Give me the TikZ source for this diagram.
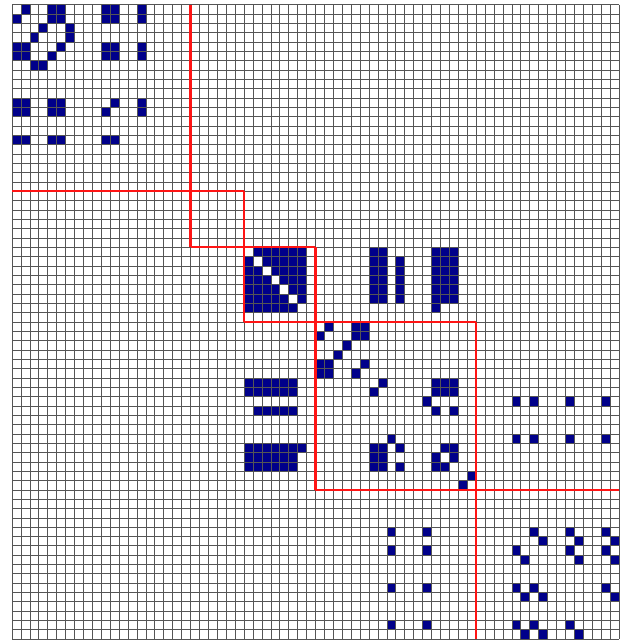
\documentclass[tikz,border=0pt]{standalone}
\definecolor{nzblue}{RGB}{0,0,138}
\definecolor{gridgray}{RGB}{85,85,85}
\definecolor{blockred}{RGB}{255,20,20}
\tikzset{
  nzcell/.style={fill=nzblue},
  gridline/.style={draw=gridgray,line width=0.7pt},
  blockline/.style={draw=blockred,line width=2.3pt}
}
\newcommand\nzpair[2]{%
  \fill[nzcell] (#2,#1) rectangle ++(1,1);
  \fill[nzcell] (#1,#2) rectangle ++(1,1);
}
\begin{document}
\begin{tikzpicture}[x=1pt,y=-1pt]
\useasboundingbox (0,0) rectangle (626,641);
\fill[white] (0,0) rectangle (626,641);
\begin{scope}[shift={(12,4.7)},x=8.926pt,y=-9.33pt]
  % scattered symmetric nonzeros (row, col)
  \foreach \r/\c in {0/1,0/4,0/5,0/10,0/11,0/14,
                     1/4,1/5,1/10,1/11,1/14,
                     2/3,2/6,3/6,
                     4/5,4/10,4/11,4/14,
                     5/10,5/11,5/14,
                     10/11,10/14,11/14,
                     32/47,
                     34/35,34/38,34/39,35/38,35/39,36/37,38/39,
                     40/41,40/47,40/48,40/49,41/47,41/48,41/49,
                     42/46,43/47,43/49,47/48,47/49,48/49,50/51,
                     42/56,42/58,42/62,42/66,46/56,46/58,46/62,46/66,
                     56/58,56/62,56/66,58/62,58/66,62/66,
                     57/59,57/63,57/67,59/63,59/67,63/67}
    {\nzpair{\r}{\c}}
  % dense block 26..32 without diagonal
  \foreach \r in {26,...,32}{
    \foreach \c in {26,...,32}{
      \ifnum\r=\c\relax\else
        \fill[nzcell] (\c,\r) rectangle ++(1,1);
      \fi
    }
  }
  % coupling 26..31 with 40,41,47,48,49
  \foreach \r in {26,...,31}{
    \foreach \c in {40,41,47,48,49}{\nzpair{\r}{\c}}
  }
  \foreach \r in {27,...,31}{\nzpair{\r}{43}}
  % grid
  \foreach \i in {0,...,68}{
    \draw[gridline] (\i,0) -- (\i,68);
    \draw[gridline] (0,\i) -- (68,\i);
  }
  % block boundaries
  \draw[blockline] (20,0) -- (20,26);
  \draw[blockline] (0,20) -- (26,20);
  \draw[blockline] (26,20) -- (26,34);
  \draw[blockline] (20,26) -- (34,26);
  \draw[blockline] (34,26) -- (34,52);
  \draw[blockline] (26,34) -- (52,34);
  \draw[blockline] (52,34) -- (52,68);
  \draw[blockline] (34,52) -- (68,52);
\end{scope}
\end{tikzpicture}
\end{document}
